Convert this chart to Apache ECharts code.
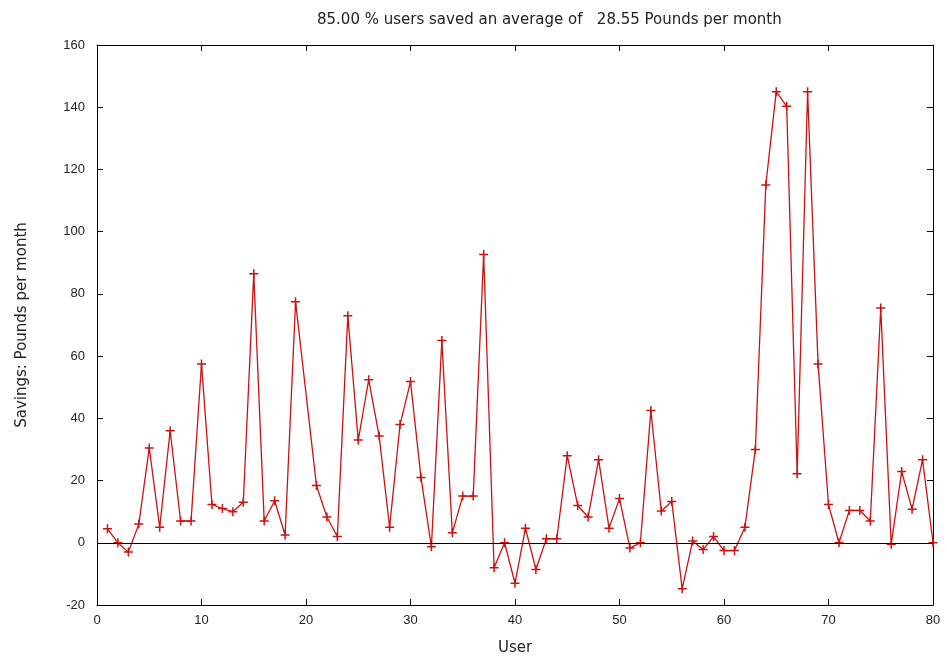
<!DOCTYPE html>
<html>
<head>
<meta charset="utf-8">
<title>User savings</title>
<script src="https://cdn.jsdelivr.net/npm/echarts@6/dist/echarts.min.js"></script>
<style>
	html, body { margin: 0; padding: 0; background: #fff; }
	#chart { width: 947px; height: 661px; }
</style>
</head>
<body>
<div id="chart"></div>
<script>
// user 20 has no point in the original plot
const users = [
	1, 2, 3, 4, 5, 6, 7, 8, 9, 10, 11, 12, 13, 14, 15, 16, 17, 18, 19,
	21, 22, 23, 24, 25, 26, 27, 28, 29, 30, 31, 32, 33, 34, 35, 36, 37, 38, 39, 40,
	41, 42, 43, 44, 45, 46, 47, 48, 49, 50, 51, 52, 53, 54, 55, 56, 57, 58, 59, 60,
	61, 62, 63, 64, 65, 66, 67, 68, 69, 70, 71, 72, 73, 74, 75, 76, 77, 78, 79, 80,
]
const savings = [
	4.5, 0, -3, 6, 30.5, 5, 36, 7, 7, 57.5, 12.3, 11, 10, 13, 86.5, 7, 13.5, 2.5, 77.5,
	18.4, 8.3, 2, 73, 33, 52.4, 34.3, 5, 38, 51.8, 21, -1.3, 65, 3.2, 15, 15, 92.7, -8, 0, -13,
	4.7, -8.6, 1.3, 1.3, 28, 12, 8.3, 26.7, 4.7, 14.2, -1.7, 0, 42.5, 10.2, 13.3, -14.8, 0.6, -2.2, 2, -2.5,
	-2.5, 5, 30, 115, 145, 140.3, 22.2, 145, 57.5, 12.3, 0, 10.4, 10.4, 7, 75.5, -0.5, 22.9, 10.8, 26.7, 0,
]
const titleText = '85.00 % users saved an average of   28.55 Pounds per month'

const font = "'Liberation Sans', Arial, sans-serif"
const wideFont = "'DejaVu Sans', sans-serif"
const textColor = '#222'

const chart = echarts.init(document.getElementById('chart'))

const axisCommon = {
	axisLine: { show: true, onZero: false, lineStyle: { color: '#000', width: 1 } },
	axisTick: { show: true, inside: true, length: 6, lineStyle: { color: '#000' } },
	splitLine: { show: false },
}

chart.setOption({
	animation: false,
	backgroundColor: '#fff',
	title: {
		text: titleText,
		left: 312,
		top: 8,
		textStyle: { fontFamily: wideFont, fontSize: 15, fontWeight: 'normal', color: textColor },
	},
	grid: { left: 97, right: 14, top: 45, bottom: 55, show: false },
	xAxis: [
		{
			...axisCommon,
			type: 'value',
			min: 0,
			max: 80,
			interval: 10,
			name: 'User',
			nameLocation: 'middle',
			nameGap: 36,
			nameTextStyle: { fontFamily: wideFont, fontSize: 15, color: textColor },
			axisLabel: { margin: 9, fontFamily: font, fontSize: 13, color: textColor },
		},
		{
			...axisCommon,
			type: 'value',
			position: 'top',
			min: 0,
			max: 80,
			interval: 10,
			axisLabel: { show: false },
		},
	],
	yAxis: [
		{
			...axisCommon,
			type: 'value',
			min: -20,
			max: 160,
			interval: 20,
			name: 'Savings: Pounds per month',
			nameLocation: 'middle',
			nameGap: 67,
			nameTextStyle: { fontFamily: wideFont, fontSize: 15, color: textColor },
			axisLabel: { margin: 12, fontFamily: font, fontSize: 13, color: textColor },
		},
		{
			...axisCommon,
			type: 'value',
			position: 'right',
			min: -20,
			max: 160,
			interval: 20,
			axisLabel: { show: false },
		},
	],
	series: [
		{
			type: 'line',
			data: users.map((u, i) => [u, savings[i]]),
			symbol: 'path://M0,5L10,5M5,0L5,10',
			symbolSize: 9,
			showSymbol: true,
			lineStyle: { color: '#cc1111', width: 1.3 },
			itemStyle: { color: 'none', borderColor: '#cc1111', borderWidth: 1.5 },
			markLine: {
				silent: true,
				symbol: 'none',
				label: { show: false },
				lineStyle: { color: '#000', width: 1, type: 'solid' },
				data: [{ yAxis: 0 }],
			},
			z: 3,
		},
	],
})

window.addEventListener('resize', () => {
	chart && chart.resize()
})
</script>
</body>
</html>
